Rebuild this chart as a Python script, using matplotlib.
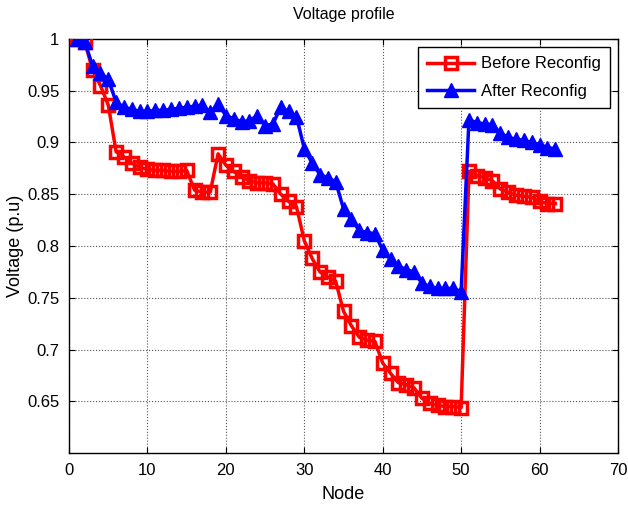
import matplotlib
matplotlib.use("Agg")
import matplotlib.pyplot as plt
import numpy as np

nodes = list(range(1, 63))
before = [1.000, 0.997, 0.970, 0.955, 0.936, 0.891, 0.886, 0.880, 0.876, 0.874,
          0.873, 0.873, 0.872, 0.872, 0.873, 0.854, 0.852, 0.852, 0.889, 0.878,
          0.872, 0.867, 0.863, 0.861, 0.861, 0.860, 0.850, 0.843, 0.838, 0.805,
          0.788, 0.775, 0.770, 0.766, 0.737, 0.723, 0.712, 0.709, 0.708, 0.687,
          0.677, 0.668, 0.666, 0.663, 0.653, 0.648, 0.646, 0.645, 0.645, 0.644,
          0.872, 0.868, 0.866, 0.863, 0.855, 0.852, 0.849, 0.848, 0.847, 0.843,
          0.841, 0.841]
after = [1.000, 0.997, 0.974, 0.967, 0.961, 0.939, 0.934, 0.932, 0.930, 0.930,
         0.931, 0.931, 0.932, 0.933, 0.934, 0.935, 0.936, 0.929, 0.937, 0.926,
         0.923, 0.920, 0.921, 0.926, 0.916, 0.918, 0.934, 0.930, 0.925, 0.894,
         0.880, 0.869, 0.866, 0.862, 0.836, 0.826, 0.815, 0.813, 0.812, 0.796,
         0.787, 0.781, 0.777, 0.775, 0.764, 0.761, 0.759, 0.759, 0.759, 0.756,
         0.922, 0.919, 0.918, 0.917, 0.909, 0.905, 0.903, 0.902, 0.900, 0.898,
         0.895, 0.894]

plt.rcParams['font.family'] = ['Liberation Sans', 'DejaVu Sans']

fig = plt.figure(figsize=(6.28, 5.12), dpi=100)
ax = fig.add_axes([0.110, 0.115, 0.874, 0.809])

ax.plot(nodes, before, color='red', lw=2.5, marker='s', ms=9, mfc='none',
        mec='red', mew=2.5, label='Before Reconfig', zorder=3)
ax.plot(nodes, after, color='blue', lw=2.5, marker='^', ms=10, mfc='blue',
        mec='blue', label='After Reconfig', zorder=4)

ax.set_xlim(0, 70)
ax.set_ylim(0.6, 1.0)
ax.set_xticks(range(0, 71, 10))
ax.set_yticks([0.65, 0.7, 0.75, 0.8, 0.85, 0.9, 0.95, 1.0])
ax.set_yticklabels(['0.65', '0.7', '0.75', '0.8', '0.85', '0.9', '0.95', '1'])
ax.tick_params(direction='in', top=True, right=True, labelsize=12, length=4, pad=7)
ax.grid(True, linestyle=':', color='#555555', lw=0.8)
for s in ax.spines.values():
    s.set_linewidth(1.0)

ax.set_title('Voltage profile', fontsize=11.5, pad=14)
ax.set_xlabel('Node', fontsize=13, labelpad=6)
ax.set_ylabel('Voltage (p.u)', fontsize=13, labelpad=2)

leg = ax.legend(loc='upper right', fontsize=12, fancybox=False, edgecolor='black',
                framealpha=1, borderpad=0.55, handlelength=2.8, labelspacing=0.75,
                borderaxespad=0.5, handletextpad=0.4)
leg.get_frame().set_linewidth(1.0)

fig.savefig('out.png', dpi=100)
